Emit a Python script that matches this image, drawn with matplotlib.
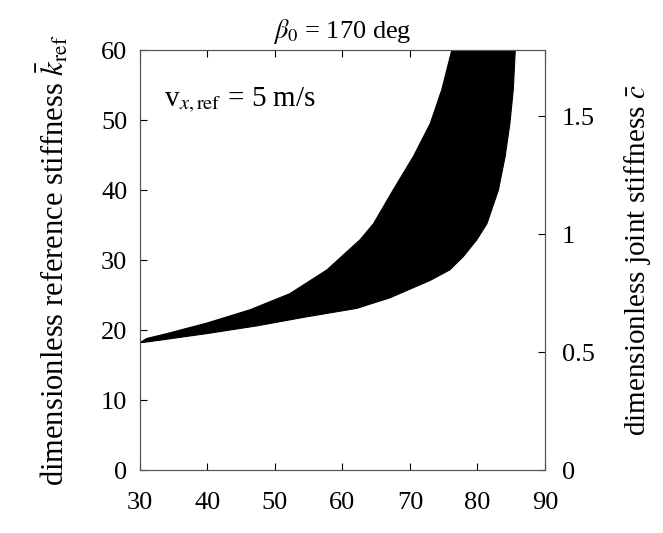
import numpy as np
import matplotlib.pyplot as plt

plt.rcParams['font.family'] = ['Liberation Serif', 'DejaVu Serif']
plt.rcParams['mathtext.fontset'] = 'stix'

# boundary of the feasible region
x_upper = [30, 31.0, 34.0, 39.9, 46.3, 52.2, 57.7, 62.6, 64.6, 67.5, 70.5, 73.0, 74.7, 76.2]
k_upper = [18.2, 18.8, 19.5, 21.0, 22.9, 25.2, 28.6, 32.9, 35.2, 40.0, 44.8, 49.5, 54.3, 60]
x_lower = [30, 31.0, 34.0, 39.9, 47.3, 54.7, 62.1, 67.0, 73.0, 75.9, 77.9, 79.9, 81.4, 83.1, 84.1, 84.8, 85.3, 85.6]
k_lower = [18.2, 18.3, 18.7, 19.5, 20.6, 21.9, 23.1, 24.6, 27.1, 28.6, 30.5, 32.9, 35.2, 40.0, 44.8, 49.5, 54.3, 60]

fig = plt.figure(figsize=(6.63, 5.33), dpi=100)
ax = fig.add_axes([0.211, 0.118, 0.611, 0.788])

# polygon: upper edge left->right, then lower edge right->left
poly_x = x_upper + x_lower[::-1]
poly_y = k_upper + k_lower[::-1]
ax.fill(poly_x, poly_y, color='black', lw=0.8, ec='black', joinstyle='round')

ax.set_xlim(30, 90)
ax.set_ylim(0, 60)
ax.set_xticks(range(30, 91, 10))
ax.set_yticks(range(0, 61, 10))
ax.tick_params(direction='in', labelsize=19, length=5, top=True)
ax.tick_params(axis='x', pad=16)
ax.tick_params(axis='y', pad=9)
ax.set_ylabel(r'dimensionless reference stiffness $\bar{k}_{\mathrm{ref}}$', fontsize=22, labelpad=22)
ax.set_title(r'$\beta_0$ = 170 deg', fontsize=19, pad=9)
ax.text(0.06, 0.915, r'v$_{x,\mathrm{ref}}$ = 5 m/s', transform=ax.transAxes,
        fontsize=21, va='top')

ax2 = ax.twinx()
ax2.set_ylim(0, 1.78)
ax2.set_yticks([0, 0.5, 1, 1.5])
ax2.set_yticklabels(['0', '0.5', '1', '1.5'])
ax2.tick_params(direction='in', labelsize=19, length=5, pad=12)
ax2.set_ylabel(r'dimensionless joint stiffness $\bar{c}$', fontsize=21, labelpad=20)

for a in (ax, ax2):
    for s in a.spines.values():
        s.set_color('#555555')

fig.savefig('out.png', dpi=100)
